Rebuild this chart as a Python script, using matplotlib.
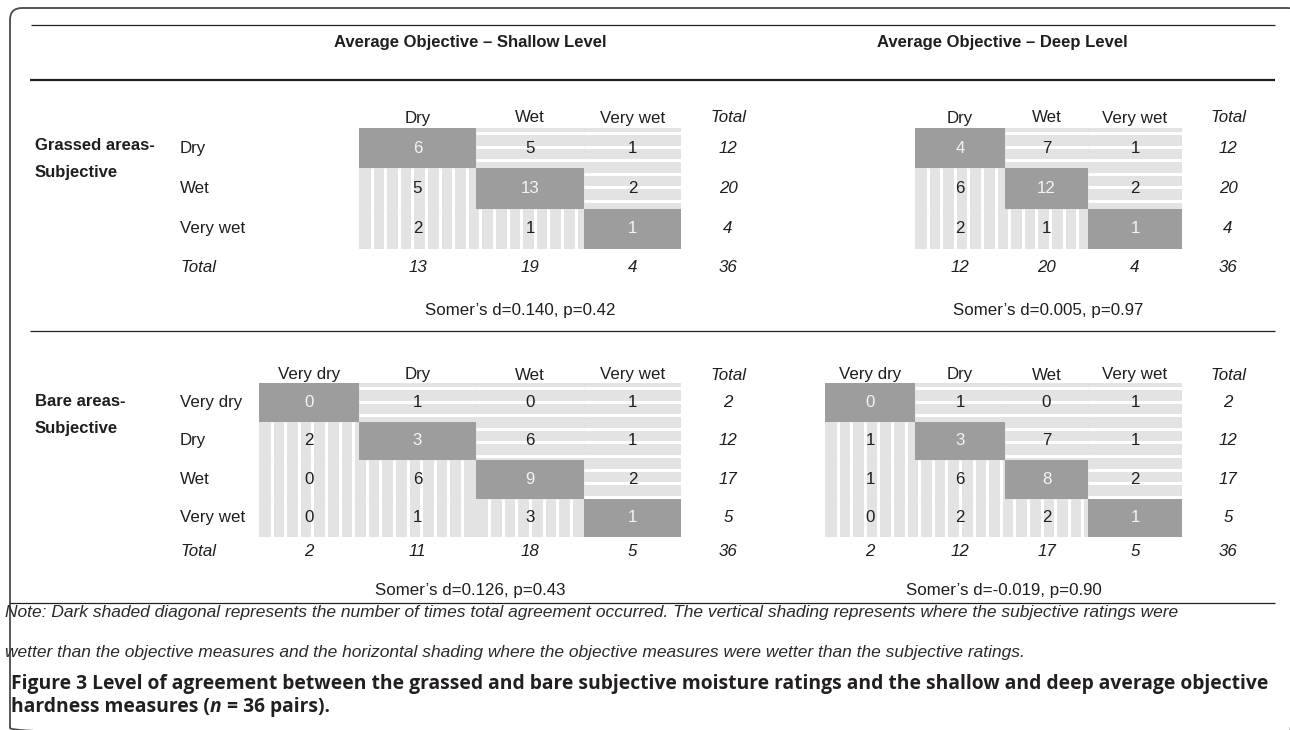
import numpy as np
import matplotlib.pyplot as plt
from matplotlib.patches import Rectangle, FancyBboxPatch

# Subjective (rows) vs average objective (columns) moisture categories
grassed_levels = ["Dry", "Wet", "Very wet"]
bare_levels = ["Very dry", "Dry", "Wet", "Very wet"]

grassed_shallow = np.array([[6, 5, 1],
                            [5, 13, 2],
                            [2, 1, 1]])
grassed_deep = np.array([[4, 7, 1],
                         [6, 12, 2],
                         [2, 1, 1]])
bare_shallow = np.array([[0, 1, 0, 1],
                         [2, 3, 6, 1],
                         [0, 6, 9, 2],
                         [0, 1, 3, 1]])
bare_deep = np.array([[0, 1, 0, 1],
                      [1, 3, 7, 1],
                      [1, 6, 8, 2],
                      [0, 2, 2, 1]])

somers_grassed_shallow = "Somer\u2019s d=0.140, p=0.42"
somers_grassed_deep = "Somer\u2019s d=0.005, p=0.97"
somers_bare_shallow = "Somer\u2019s d=0.126, p=0.43"
somers_bare_deep = "Somer\u2019s d=-0.019, p=0.90"

note_lines = [
    "Note: Dark shaded diagonal represents the number of times total agreement occurred. "
    "The vertical shading represents where the subjective ratings were",
    "wetter than the objective measures and the horizontal shading where the objective "
    "measures were wetter than the subjective ratings.",
]

DARK = "#9d9d9d"
LIGHT = "#e3e3e3"
INK = "#1e1e1e"
FONT = "Liberation Sans"
FS = 12.2
PERIOD = 13.6   # stripe spacing in pixels
GAP = 3.0       # white gap between stripes, pixels

fig = plt.figure(figsize=(12.9, 7.3), dpi=100)
ax = fig.add_axes([0, 0, 1, 1])
ax.set_xlim(0, 1290)
ax.set_ylim(730, 0)
ax.axis("off")


def txt(x, y, s, ha="center", **kw):
    kw.setdefault("fontsize", FS)
    kw.setdefault("color", INK)
    kw.setdefault("family", FONT)
    return ax.text(x, y, s, ha=ha, va="center", **kw)


def draw_table(counts, levels, col_edges, row_top, row_h, total_x,
               head_y, total_y, somers, somers_y, row_label_x=None):
    n = len(levels)
    row_edges = row_top + row_h * np.arange(n + 1)
    # global stripe positions so the pattern runs on from cell to cell
    vx = np.arange(col_edges[0] + 12.5, col_edges[-1], PERIOD)
    hy = np.arange(row_top + 5.0, row_edges[-1], PERIOD)
    for i in range(n):
        for j in range(n):
            x0, x1 = col_edges[j], col_edges[j + 1]
            y0, y1 = row_edges[i], row_edges[i + 1]
            if i == j:
                ax.add_patch(Rectangle((x0, y0), x1 - x0, y1 - y0,
                                       facecolor=DARK, lw=0))
                colour = "#f4f4f4"
            else:
                ax.add_patch(Rectangle((x0, y0), x1 - x0, y1 - y0,
                                       facecolor=LIGHT, lw=0))
                if i > j:
                    xs = vx[(vx > x0 + 1) & (vx < x1 - 1)]
                    ax.vlines(xs, y0, y1, colors="white", lw=GAP * 0.72)
                else:
                    ys = hy[(hy > y0 + 1) & (hy < y1 - 1)]
                    ax.hlines(ys, x0, x1, colors="white", lw=GAP * 0.72)
                colour = INK
            txt((x0 + x1) / 2, (y0 + y1) / 2, str(counts[i, j]), color=colour)
        # row total
        txt(total_x, (row_edges[i] + row_edges[i + 1]) / 2,
            str(counts[i].sum()), style="italic")
        if row_label_x is not None:
            txt(row_label_x, (row_edges[i] + row_edges[i + 1]) / 2, levels[i], ha="left")
    # column headers and column totals
    for j in range(n):
        cx = (col_edges[j] + col_edges[j + 1]) / 2
        txt(cx, head_y, levels[j])
        txt(cx, total_y, str(counts[:, j].sum()), style="italic")
    txt(total_x, head_y, "Total", style="italic")
    txt(total_x, total_y, str(counts.sum()), style="italic")
    if row_label_x is not None:
        txt(row_label_x, total_y, "Total", ha="left", style="italic")
    txt((col_edges[0] + col_edges[-1]) / 2, somers_y, somers)


shallow_edges = [259, 359, 476, 584, 681]
deep_edges = [825, 915, 1005, 1088, 1182]

# frame and rules
ax.add_patch(FancyBboxPatch((10, 8), 1290, 732, boxstyle="round,pad=0,rounding_size=12",
                            fill=False, edgecolor="#4a4a4a", lw=1.3))
ax.hlines(25, 31, 1275, colors="#222222", lw=0.9)
ax.hlines(80, 30, 1275, colors="#222222", lw=1.6)
ax.hlines(331, 30, 1275, colors="#222222", lw=0.9)
ax.hlines(603, 10, 1275, colors="#222222", lw=0.9)

txt(470, 43, "Average Objective \u2013 Shallow Level", fontsize=12, weight="bold")
txt(1002, 43, "Average Objective \u2013 Deep Level", fontsize=12, weight="bold")

# grassed areas
txt(35, 145, "Grassed areas-", ha="left", fontsize=12, weight="bold")
txt(35, 172, "Subjective", ha="left", fontsize=12, weight="bold")
draw_table(grassed_shallow, grassed_levels, shallow_edges[1:], 128, 40.3, 728,
           118, 267, somers_grassed_shallow, 310, row_label_x=180)
draw_table(grassed_deep, grassed_levels, deep_edges[1:], 128, 40.3, 1228,
           118, 267, somers_grassed_deep, 310)

# bare areas
txt(35, 402, "Bare areas-", ha="left", fontsize=12, weight="bold")
txt(35, 428, "Subjective", ha="left", fontsize=12, weight="bold")
draw_table(bare_shallow, bare_levels, shallow_edges, 383, 38.5, 728,
           375, 552, somers_bare_shallow, 590, row_label_x=180)
draw_table(bare_deep, bare_levels, deep_edges, 383, 38.5, 1228,
           375, 552, somers_bare_deep, 590)

# note and caption
txt(5, 612, note_lines[0], ha="left", fontsize=12.5, style="italic", color="#2a2a2a")
txt(5, 652, note_lines[1], ha="left", fontsize=12.5, style="italic", color="#2a2a2a")

cap = dict(fontsize=13.9, weight="bold", family="Open Sans", color="#231f20")
ax.text(11, 684, "Figure 3 Level of agreement between the grassed and bare subjective "
        "moisture ratings and the shallow and deep average objective",
        ha="left", va="center", **cap)
t1 = ax.text(11, 707, "hardness measures (", ha="left", va="center", **cap)
t2 = ax.annotate("n", xy=(1, 0), xycoords=t1, ha="left", va="bottom", style="italic", **cap)
ax.annotate(" = 36 pairs).", xy=(1, 0), xycoords=t2, ha="left", va="bottom", **cap)

fig.savefig("out.png", dpi=100)
